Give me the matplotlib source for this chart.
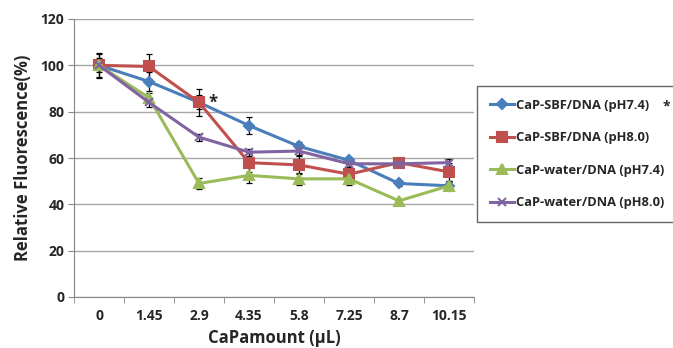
import matplotlib
matplotlib.use("Agg")
import matplotlib.pyplot as plt
import numpy as np

# CaP amount categories (x axis)
cap_amount = ['0', '1.45', '2.9', '4.35', '5.8', '7.25', '8.7', '10.15']

# relative fluorescence (%)
sbf_74 = [100, 93, 84, 74, 65, 59, 49, 48]
sbf_80 = [100, 99.5, 84, 58, 57, 53, 58, 54]
water_74 = [100, 86, 49, 52.5, 51, 51, 41.5, 48]
water_80 = [100, 84, 69, 62.5, 63, 57.5, 57.5, 58]

# error bar half-widths (estimated)
sbf_74_err = [5, 4, 3, 3.5, 2, 1.5, 1, 1.5]
sbf_80_err = [5.5, 5.5, 6, 4, 4, 2, 1.5, 4]
water_74_err = [3, 2, 2.5, 3.5, 2.5, 2.5, 1, 2]
water_80_err = [2, 2, 1.5, 1.5, 1.5, 1.5, 1, 1.5]

labels = ['CaP-SBF/DNA (pH7.4)', 'CaP-SBF/DNA (pH8.0)',
          'CaP-water/DNA (pH7.4)', 'CaP-water/DNA (pH8.0)']

plt.rcParams['font.family'] = ['Open Sans', 'DejaVu Sans']

fig = plt.figure(figsize=(6.73, 3.48), dpi=100)
ax = fig.add_axes([74 / 673, 51 / 348, 400 / 673, 278 / 348])

x = np.arange(len(cap_amount))
series = [
    (sbf_74, sbf_74_err, '#4A7EBB', 'D', 5),
    (sbf_80, sbf_80_err, '#C0504D', 's', 7),
    (water_74, water_74_err, '#9BBB59', '^', 7),
    (water_80, water_80_err, '#8064A2', 'x', 6),
]

# error bars first so lines sit on top
for vals, err, col, mk, ms in series:
    ax.errorbar(x, vals, yerr=err, fmt='none', ecolor='black',
                elinewidth=0.9, capsize=2.5, capthick=0.9, zorder=2)

handles = []
for (vals, err, col, mk, ms), lab in zip(series, labels):
    h, = ax.plot(x, vals, color=col, linewidth=2.2, marker=mk,
                 markersize=ms, markerfacecolor=col, markeredgecolor=col,
                 markeredgewidth=1.5, label=lab, zorder=3)
    handles.append(h)

ax.set_xlim(-0.5, len(cap_amount) - 0.5)
ax.set_ylim(0, 120)
ax.set_yticks(range(0, 121, 20))
ax.set_xticks(x)
ax.set_xticklabels(cap_amount)
ax.set_xticks(np.arange(-0.5, len(cap_amount)), minor=True)
ax.tick_params(axis='x', which='major', length=0, pad=9)
ax.tick_params(axis='x', which='minor', length=4, color='#868686')
ax.tick_params(axis='y', length=4, color='#868686', pad=3)
for lbl in ax.get_xticklabels() + ax.get_yticklabels():
    lbl.set_fontweight('bold')
    lbl.set_fontsize(10)
    lbl.set_color('#262626')

ax.grid(axis='y', color='#A6A6A6', linewidth=1)
ax.set_axisbelow(True)
for side in ['top', 'right']:
    ax.spines[side].set_visible(False)
for side in ['left', 'bottom']:
    ax.spines[side].set_color('#868686')

ax.set_ylabel('Relative Fluorescence(%)', fontsize=12, fontweight='bold',
              color='#262626', labelpad=6)
ax.set_xlabel('CaPamount (\u00b5L)', fontsize=12, fontweight='bold',
              color='#262626', labelpad=4)

# significance marker next to point at 2.9
ax.annotate('*', (2, 84), xytext=(7, -4), textcoords='offset points',
            fontsize=12, fontweight='bold', color='#262626')

leg = fig.legend(handles=handles, loc='center left',
                 bbox_to_anchor=(477 / 673, 1 - 154 / 348),
                 frameon=True, fancybox=False, edgecolor='#404040',
                 prop={'weight': 'bold', 'size': 9.3}, handlelength=1.9,
                 handletextpad=0.1, labelspacing=1.5, borderpad=1.0,
                 borderaxespad=0)
leg.get_frame().set_linewidth(1.0)
for t in leg.get_texts():
    t.set_color('#262626')

fig.text(666 / 673, 1 - 106 / 348, '*', fontsize=10, fontweight='bold',
         color='#262626', ha='center', va='center', zorder=10)

fig.savefig('out.png', dpi=100, facecolor='white')
